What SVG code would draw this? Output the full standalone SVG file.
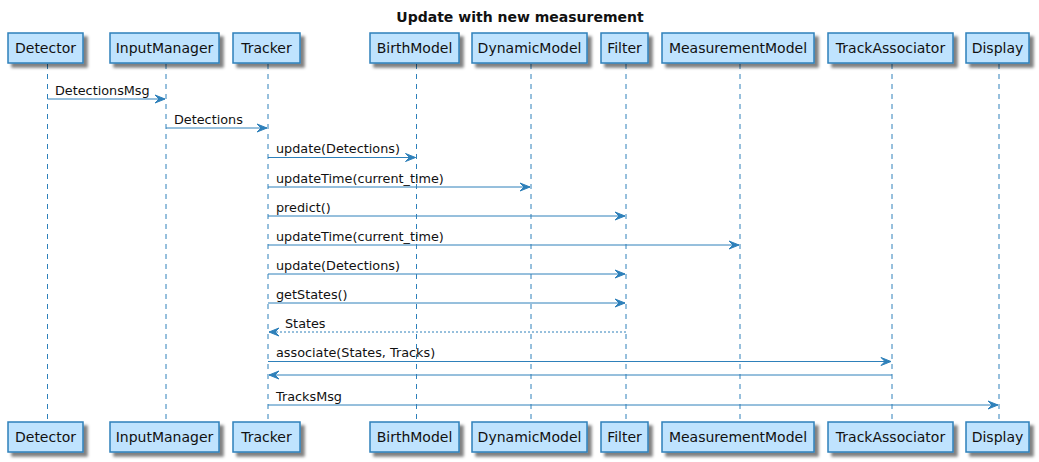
<svg xmlns="http://www.w3.org/2000/svg" width="1039" height="462" viewBox="0 0 1039 462">
<defs>
<filter id="sh" x="-20%" y="-20%" width="150%" height="170%">
<feGaussianBlur in="SourceAlpha" stdDeviation="1.8"/>
<feOffset dx="4" dy="4" result="b"/>
<feComponentTransfer><feFuncA type="linear" slope="0.5"/></feComponentTransfer>
<feMerge><feMergeNode/><feMergeNode in="SourceGraphic"/></feMerge>
</filter>
<marker id="ah" viewBox="-1 -1 13 10" refX="10" refY="4" markerWidth="13" markerHeight="10" markerUnits="userSpaceOnUse" orient="auto">
<polygon points="0,0 10,4 0,8 4,4" fill="#2E80BA" stroke="#2E80BA" stroke-width="1" stroke-linejoin="miter"/>
</marker>
</defs>
<style>
.box{fill:#BFE3FE;stroke:#2E80BA;stroke-width:1.5}
.pt{font-family:"DejaVu Sans",sans-serif;font-size:14px;fill:#111;text-anchor:middle}
.life{stroke:#2E80BA;stroke-width:1;stroke-dasharray:5,5;fill:none}
.msg{stroke:#2E80BA;stroke-width:1;fill:none;marker-end:url(#ah)}
.ret{stroke-dasharray:2,2}
.ml{font-family:"DejaVu Sans",sans-serif;font-size:12.8px;fill:#111}
.title{font-family:"DejaVu Sans",sans-serif;font-size:14px;font-weight:bold;fill:#111;text-anchor:middle}
</style>
<rect width="1039" height="462" fill="#FFFFFF"/>
<text class="title" x="520" y="22">Update with new measurement</text>
<g id="lifelines">
<line class="life" x1="47.5" y1="64" x2="47.5" y2="422"/>
<line class="life" x1="166" y1="64" x2="166" y2="422"/>
<line class="life" x1="268" y1="64" x2="268" y2="422"/>
<line class="life" x1="416.5" y1="64" x2="416.5" y2="422"/>
<line class="life" x1="531" y1="64" x2="531" y2="422"/>
<line class="life" x1="626" y1="64" x2="626" y2="422"/>
<line class="life" x1="740" y1="64" x2="740" y2="422"/>
<line class="life" x1="892" y1="64" x2="892" y2="422"/>
<line class="life" x1="999" y1="64" x2="999" y2="422"/>
</g>
<g id="Detector">
<rect class="box" x="8" y="33" width="75" height="30" filter="url(#sh)"/><text class="pt" x="45.5" y="53">Detector</text>
<rect class="box" x="8" y="422" width="75" height="30" filter="url(#sh)"/><text class="pt" x="45.5" y="442">Detector</text>
</g>
<g id="InputManager">
<rect class="box" x="110" y="33" width="109" height="30" filter="url(#sh)"/><text class="pt" x="164.5" y="53">InputManager</text>
<rect class="box" x="110" y="422" width="109" height="30" filter="url(#sh)"/><text class="pt" x="164.5" y="442">InputManager</text>
</g>
<g id="Tracker">
<rect class="box" x="233" y="33" width="67" height="30" filter="url(#sh)"/><text class="pt" x="266.5" y="53">Tracker</text>
<rect class="box" x="233" y="422" width="67" height="30" filter="url(#sh)"/><text class="pt" x="266.5" y="442">Tracker</text>
</g>
<g id="BirthModel">
<rect class="box" x="370" y="33" width="89" height="30" filter="url(#sh)"/><text class="pt" x="414.5" y="53">BirthModel</text>
<rect class="box" x="370" y="422" width="89" height="30" filter="url(#sh)"/><text class="pt" x="414.5" y="442">BirthModel</text>
</g>
<g id="DynamicModel">
<rect class="box" x="472" y="33" width="115" height="30" filter="url(#sh)"/><text class="pt" x="529.5" y="53">DynamicModel</text>
<rect class="box" x="472" y="422" width="115" height="30" filter="url(#sh)"/><text class="pt" x="529.5" y="442">DynamicModel</text>
</g>
<g id="Filter">
<rect class="box" x="601" y="33" width="47" height="30" filter="url(#sh)"/><text class="pt" x="624.5" y="53">Filter</text>
<rect class="box" x="601" y="422" width="47" height="30" filter="url(#sh)"/><text class="pt" x="624.5" y="442">Filter</text>
</g>
<g id="MeasurementModel">
<rect class="box" x="662" y="33" width="152" height="30" filter="url(#sh)"/><text class="pt" x="738" y="53">MeasurementModel</text>
<rect class="box" x="662" y="422" width="152" height="30" filter="url(#sh)"/><text class="pt" x="738" y="442">MeasurementModel</text>
</g>
<g id="TrackAssociator">
<rect class="box" x="828" y="33" width="125" height="30" filter="url(#sh)"/><text class="pt" x="890.5" y="53">TrackAssociator</text>
<rect class="box" x="828" y="422" width="125" height="30" filter="url(#sh)"/><text class="pt" x="890.5" y="442">TrackAssociator</text>
</g>
<g id="Display">
<rect class="box" x="966" y="33" width="63" height="30" filter="url(#sh)"/><text class="pt" x="997.5" y="53">Display</text>
<rect class="box" x="966" y="422" width="63" height="30" filter="url(#sh)"/><text class="pt" x="997.5" y="442">Display</text>
</g>
<g id="connectors">
<line class="msg" x1="47.5" y1="99" x2="165" y2="99"/><text class="ml" x="55" y="95">DetectionsMsg</text>
<line class="msg" x1="166" y1="128" x2="267" y2="128"/><text class="ml" x="174" y="124">Detections</text>
<line class="msg" x1="268" y1="157.5" x2="415.5" y2="157.5"/><text class="ml" x="276" y="153">update(Detections)</text>
<line class="msg" x1="268" y1="187" x2="530" y2="187"/><text class="ml" x="276" y="182.5">updateTime(current_time)</text>
<line class="msg" x1="268" y1="216" x2="625" y2="216"/><text class="ml" x="276" y="211.5">predict()</text>
<line class="msg" x1="268" y1="245" x2="739" y2="245"/><text class="ml" x="276" y="240.5">updateTime(current_time)</text>
<line class="msg" x1="268" y1="274" x2="625" y2="274"/><text class="ml" x="276" y="269.5">update(Detections)</text>
<line class="msg" x1="268" y1="303" x2="625" y2="303"/><text class="ml" x="276" y="298.5">getStates()</text>
<line class="msg ret" x1="626" y1="332" x2="269" y2="332"/><text class="ml" x="285" y="327.5">States</text>
<line class="msg" x1="268" y1="361.5" x2="891" y2="361.5"/><text class="ml" x="276" y="357">associate(States, Tracks)</text>
<line class="msg" x1="892" y1="375" x2="269" y2="375"/>
<line class="msg" x1="268" y1="405" x2="998" y2="405"/><text class="ml" x="276" y="400.5">TracksMsg</text>
</g>
</svg>
